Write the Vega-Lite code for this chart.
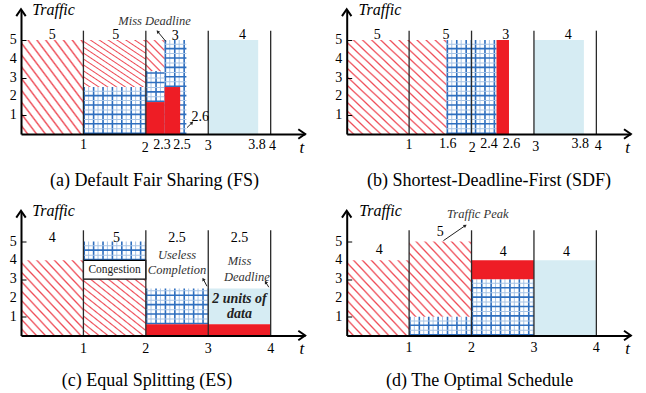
{
"$schema":"https://vega.github.io/schema/vega-lite/v6.json",
"padding":{"left":9,"top":1,"right":5,"bottom":5},
"data":{"values":[
{"p":"a","k":"hatch","x":0,"x2":1,"y":0,"y2":5},
{"p":"a","k":"hatch","x":1,"x2":2,"y":2.5,"y2":5},
{"p":"a","k":"hatch","x":2,"x2":2.3,"y":3.35,"y2":5},
{"p":"a","k":"grid","x":1,"x2":2,"y":0,"y2":2.5},
{"p":"a","k":"grid","x":2,"x2":2.3,"y":1.7,"y2":3.35},
{"p":"a","k":"grid","x":2.3,"x2":2.65,"y":0,"y2":5},
{"p":"a","k":"red","x":2,"x2":2.3,"y":0,"y2":1.7},
{"p":"a","k":"red","x":2.3,"x2":2.55,"y":0,"y2":2.5},
{"p":"a","k":"light","x":3,"x2":3.8,"y":0,"y2":5},
{"p":"a","k":"sep","x":1,"y":0,"y2":5.5},
{"p":"a","k":"sep","x":2,"y":0,"y2":5.5},
{"p":"a","k":"sep","x":3,"y":0,"y2":5.5},
{"p":"a","k":"sep","x":4,"y":0,"y2":5.5},
{"p":"a","k":"value","x":0.5,"y":5.25,"t":"5"},
{"p":"a","k":"value","x":1.52,"y":5.25,"t":"5"},
{"p":"a","k":"value","x":2.47,"y":5.22,"t":"3"},
{"p":"a","k":"value","x":3.55,"y":5.25,"t":"4"},
{"p":"a","k":"tick","x":1,"y":-0.6,"t":"1"},
{"p":"a","k":"tick","x":1.99,"y":-0.72,"t":"2"},
{"p":"a","k":"tick","x":2.26,"y":-0.6,"t":"2.3"},
{"p":"a","k":"tick","x":2.58,"y":-0.6,"t":"2.5"},
{"p":"a","k":"tick","x":3,"y":-0.66,"t":"3"},
{"p":"a","k":"tick","x":3.78,"y":-0.6,"t":"3.8"},
{"p":"a","k":"tick","x":4.03,"y":-0.66,"t":"4"},
{"p":"a","k":"tick","x":2.87,"y":0.88,"t":"2.6"},
{"p":"a","k":"ylab","x":-0.07,"y":1,"t":"1"},
{"p":"a","k":"ylab","x":-0.07,"y":2,"t":"2"},
{"p":"a","k":"ylab","x":-0.07,"y":3,"t":"3"},
{"p":"a","k":"ylab","x":-0.07,"y":4,"t":"4"},
{"p":"a","k":"ylab","x":-0.07,"y":5,"t":"5"},
{"p":"a","k":"annot","x":2.14,"y":6.0,"t":"Miss Deadline"},
{"p":"a","k":"arrow","x":2.32,"y":4.93,"x2":2.19,"y2":5.45},
{"p":"a","k":"arrow","x":2.66,"y":0.34,"x2":2.74,"y2":0.6},
{"p":"a","k":"xarrow","x":4.51,"y":0},
{"p":"a","k":"yarrow","x":0,"y":6.5},
{"p":"a","k":"ylabel","x":0.18,"y":6.62,"t":"Traffic"},
{"p":"a","k":"xlabel","x":4.5,"y":-0.72,"t":"t"},
{"p":"a","k":"caption","x":2.14,"y":-2.5,"t":"(a)  Default Fair Sharing (FS)"},

{"p":"b","k":"hatch","x":0,"x2":1.6,"y":0,"y2":5},
{"p":"b","k":"grid","x":1.6,"x2":2.4,"y":0,"y2":5},
{"p":"b","k":"red","x":2.4,"x2":2.6,"y":0,"y2":5},
{"p":"b","k":"light","x":3,"x2":3.8,"y":0,"y2":5},
{"p":"b","k":"sep","x":1,"y":0,"y2":5.5},
{"p":"b","k":"sep","x":2,"y":0,"y2":5.5},
{"p":"b","k":"sep","x":3,"y":0,"y2":5.5},
{"p":"b","k":"sep","x":4,"y":0,"y2":5.5},
{"p":"b","k":"value","x":0.49,"y":5.25,"t":"5"},
{"p":"b","k":"value","x":1.59,"y":5.25,"t":"5"},
{"p":"b","k":"value","x":2.55,"y":5.25,"t":"3"},
{"p":"b","k":"value","x":3.55,"y":5.25,"t":"4"},
{"p":"b","k":"tick","x":1,"y":-0.6,"t":"1"},
{"p":"b","k":"tick","x":1.62,"y":-0.55,"t":"1.6"},
{"p":"b","k":"tick","x":2.01,"y":-0.75,"t":"2"},
{"p":"b","k":"tick","x":2.28,"y":-0.55,"t":"2.4"},
{"p":"b","k":"tick","x":2.64,"y":-0.55,"t":"2.6"},
{"p":"b","k":"tick","x":3.03,"y":-0.68,"t":"3"},
{"p":"b","k":"tick","x":3.74,"y":-0.55,"t":"3.8"},
{"p":"b","k":"tick","x":4.03,"y":-0.62,"t":"4"},
{"p":"b","k":"ylab","x":-0.07,"y":1,"t":"1"},
{"p":"b","k":"ylab","x":-0.07,"y":2,"t":"2"},
{"p":"b","k":"ylab","x":-0.07,"y":3,"t":"3"},
{"p":"b","k":"ylab","x":-0.07,"y":4,"t":"4"},
{"p":"b","k":"ylab","x":-0.07,"y":5,"t":"5"},
{"p":"b","k":"xarrow","x":4.51,"y":0},
{"p":"b","k":"yarrow","x":0,"y":6.5},
{"p":"b","k":"ylabel","x":0.19,"y":6.62,"t":"Traffic"},
{"p":"b","k":"xlabel","x":4.5,"y":-0.72,"t":"t"},
{"p":"b","k":"caption","x":2.28,"y":-2.5,"t":"(b)  Shortest-Deadline-First (SDF)"},

{"p":"c","k":"hatch","x":0,"x2":1,"y":0,"y2":4},
{"p":"c","k":"hatch","x":1,"x2":2,"y":0,"y2":3},
{"p":"c","k":"grid","x":1,"x2":2,"y":4,"y2":5},
{"p":"c","k":"grid","x":2,"x2":3,"y":0.6,"y2":2.5},
{"p":"c","k":"red","x":2,"x2":4,"y":0,"y2":0.6},
{"p":"c","k":"light","x":3,"x2":4,"y":0.6,"y2":2.5},
{"p":"c","k":"box","x":1,"x2":2,"y":3,"y2":4},
{"p":"c","k":"sep","x":1,"y":0,"y2":5.6},
{"p":"c","k":"sep","x":2,"y":0,"y2":5.6},
{"p":"c","k":"sep","x":3,"y":0,"y2":5.6},
{"p":"c","k":"sep","x":4,"y":0,"y2":5.6},
{"p":"c","k":"value","x":0.5,"y":5.2,"t":"4"},
{"p":"c","k":"value","x":1.53,"y":5.2,"t":"5"},
{"p":"c","k":"value","x":2.5,"y":5.2,"t":"2.5"},
{"p":"c","k":"value","x":3.5,"y":5.2,"t":"2.5"},
{"p":"c","k":"annot","x":2.5,"y":4.29,"t":"Useless"},
{"p":"c","k":"annot","x":2.5,"y":3.46,"t":"Completion"},
{"p":"c","k":"annot","x":3.5,"y":3.94,"t":"Miss"},
{"p":"c","k":"annot","x":3.62,"y":3.1,"t":"Deadline"},
{"p":"c","k":"callout","x":3.5,"y":1.95,"t":"2 units of"},
{"p":"c","k":"callout","x":3.5,"y":1.15,"t":"data"},
{"p":"c","k":"boxlabel","x":1.5,"y":3.5,"t":"Congestion"},
{"p":"c","k":"arrow","x":2.98,"y":2.62,"x2":2.92,"y2":3.0},
{"p":"c","k":"arrow","x":3.97,"y":2.57,"x2":3.92,"y2":2.84},
{"p":"c","k":"tick","x":1,"y":-0.7,"t":"1"},
{"p":"c","k":"tick","x":2,"y":-0.7,"t":"2"},
{"p":"c","k":"tick","x":3,"y":-0.7,"t":"3"},
{"p":"c","k":"tick","x":4,"y":-0.7,"t":"4"},
{"p":"c","k":"ylab","x":-0.07,"y":1,"t":"1"},
{"p":"c","k":"ylab","x":-0.07,"y":2,"t":"2"},
{"p":"c","k":"ylab","x":-0.07,"y":3,"t":"3"},
{"p":"c","k":"ylab","x":-0.07,"y":4,"t":"4"},
{"p":"c","k":"ylab","x":-0.07,"y":5,"t":"5"},
{"p":"c","k":"xarrow","x":4.51,"y":0},
{"p":"c","k":"yarrow","x":0,"y":6.5},
{"p":"c","k":"ylabel","x":0.18,"y":6.62,"t":"Traffic"},
{"p":"c","k":"xlabel","x":4.5,"y":-0.74,"t":"t"},
{"p":"c","k":"caption","x":2.02,"y":-2.4,"t":"(c)  Equal Splitting (ES)"},

{"p":"d","k":"hatch","x":0,"x2":1,"y":0,"y2":4},
{"p":"d","k":"hatch","x":1,"x2":2,"y":1,"y2":5},
{"p":"d","k":"grid","x":1,"x2":2,"y":0,"y2":1},
{"p":"d","k":"grid","x":2,"x2":3,"y":0,"y2":3},
{"p":"d","k":"red","x":2,"x2":3,"y":3,"y2":4},
{"p":"d","k":"light","x":3,"x2":4,"y":0,"y2":4},
{"p":"d","k":"sep","x":1,"y":0,"y2":5.6},
{"p":"d","k":"sep","x":2,"y":0,"y2":5.6},
{"p":"d","k":"sep","x":3,"y":0,"y2":5.6},
{"p":"d","k":"sep","x":4,"y":0,"y2":5.6},
{"p":"d","k":"value","x":0.52,"y":4.55,"t":"4"},
{"p":"d","k":"value","x":1.5,"y":5.5,"t":"5"},
{"p":"d","k":"value","x":2.51,"y":4.45,"t":"4"},
{"p":"d","k":"value","x":3.52,"y":4.45,"t":"4"},
{"p":"d","k":"annot","x":2.1,"y":6.47,"t":"Traffic Peak"},
{"p":"d","k":"arrow","x":1.55,"y":5.05,"x2":1.9,"y2":5.85},
{"p":"d","k":"tick","x":1,"y":-0.68,"t":"1"},
{"p":"d","k":"tick","x":2,"y":-0.68,"t":"2"},
{"p":"d","k":"tick","x":3,"y":-0.68,"t":"3"},
{"p":"d","k":"tick","x":4,"y":-0.68,"t":"4"},
{"p":"d","k":"ylab","x":-0.07,"y":1,"t":"1"},
{"p":"d","k":"ylab","x":-0.07,"y":2,"t":"2"},
{"p":"d","k":"ylab","x":-0.07,"y":3,"t":"3"},
{"p":"d","k":"ylab","x":-0.07,"y":4,"t":"4"},
{"p":"d","k":"ylab","x":-0.07,"y":5,"t":"5"},
{"p":"d","k":"xarrow","x":4.51,"y":0},
{"p":"d","k":"yarrow","x":0,"y":6.5},
{"p":"d","k":"ylabel","x":0.2,"y":6.64,"t":"Traffic"},
{"p":"d","k":"xlabel","x":4.5,"y":-0.7,"t":"t"},
{"p":"d","k":"caption","x":2.13,"y":-2.4,"t":"(d)  The Optimal Schedule"}
]},
"transform":[
{"calculate":"(datum.x+datum.x2)/2","as":"xm"},
{"calculate":"(datum.y+datum.y2)/2","as":"ym"},
{"calculate":"datum.x2-datum.x","as":"w"},
{"calculate":"datum.y2-datum.y","as":"h"},
{"calculate":"atan2((datum.x2-datum.x)*62.4,(datum.y2-datum.y)*18.8)*180/PI","as":"ang"},
{"calculate":"datum.p==='a' || datum.p==='b' ? 1 : 2","as":"r"},
{"calculate":"datum.p==='a' || datum.p==='c' ? 1 : 2","as":"c"}
],
"facet":{
 "row":{"field":"r","type":"ordinal","header":{"labels":false,"title":null}},
 "column":{"field":"c","type":"ordinal","header":{"labels":false,"title":null}}},
"spacing":{"row":77.5,"column":41.7},
"bounds":"flush",
"resolve":{"axis":{"x":"independent","y":"independent"}},
"spec":{
"width":284,"height":124,
"resolve":{"scale":{"size":"independent"}},
"layer":[
{"transform":[{"filter":"datum.k==='hatch' && datum.w<0.5"}],
 "mark":{"type":"rect","fill":{"gradient":"linear","x1":0,"y1":1,"x2":0.716,"y2":-0.1735,"stops":[
 {"offset":0,"color":"#fff"},
 {"offset":0.0917,"color":"#fff"},{"offset":0.125,"color":"#ee4a55"},{"offset":0.1583,"color":"#fff"},
 {"offset":0.2583,"color":"#fff"},{"offset":0.2917,"color":"#ee4a55"},{"offset":0.325,"color":"#fff"},
 {"offset":0.425,"color":"#fff"},{"offset":0.4583,"color":"#ee4a55"},{"offset":0.4917,"color":"#fff"},
 {"offset":0.5917,"color":"#fff"},{"offset":0.625,"color":"#ee4a55"},{"offset":0.6583,"color":"#fff"},
 {"offset":0.7583,"color":"#fff"},{"offset":0.7917,"color":"#ee4a55"},{"offset":0.825,"color":"#fff"},
 {"offset":0.925,"color":"#fff"},{"offset":0.9583,"color":"#ee4a55"},{"offset":0.9917,"color":"#fff"}]}},
 "encoding":{
  "x":{"field":"x","type":"quantitative","title":null,"scale":{"domain":[0,4.55],"nice":false,"zero":false},
   "axis":{"labels":false,"ticks":false,"grid":false,"domainWidth":2,"domainColor":"#000","zindex":1}},
  "x2":{"field":"x2"},
  "y":{"field":"y","type":"quantitative","title":null,"scale":{"domain":[0,6.6],"nice":false,"zero":false},
   "axis":{"values":[1,2,3,4,5],"labels":false,"tickSize":-5,"domainWidth":2,"domainColor":"#000","tickColor":"#000","tickWidth":1,"grid":false,"zindex":1}},
  "y2":{"field":"y2"}}},
{"transform":[{"filter":"datum.k==='hatch' && datum.w>=0.5 && datum.w<1.3"}],
 "mark":{"type":"rect","fill":{"gradient":"linear","x1":0,"y1":1,"x2":0.936,"y2":-0.0566,"stops":[
 {"offset":0,"color":"#fff"},
 {"offset":0.0367,"color":"#fff"},{"offset":0.05,"color":"#ee4a55"},{"offset":0.0633,"color":"#fff"},
 {"offset":0.1033,"color":"#fff"},{"offset":0.1167,"color":"#ee4a55"},{"offset":0.13,"color":"#fff"},
 {"offset":0.17,"color":"#fff"},{"offset":0.1833,"color":"#ee4a55"},{"offset":0.1967,"color":"#fff"},
 {"offset":0.2367,"color":"#fff"},{"offset":0.25,"color":"#ee4a55"},{"offset":0.2633,"color":"#fff"},
 {"offset":0.3033,"color":"#fff"},{"offset":0.3167,"color":"#ee4a55"},{"offset":0.33,"color":"#fff"},
 {"offset":0.37,"color":"#fff"},{"offset":0.3833,"color":"#ee4a55"},{"offset":0.3967,"color":"#fff"},
 {"offset":0.4367,"color":"#fff"},{"offset":0.45,"color":"#ee4a55"},{"offset":0.4633,"color":"#fff"},
 {"offset":0.5033,"color":"#fff"},{"offset":0.5167,"color":"#ee4a55"},{"offset":0.53,"color":"#fff"},
 {"offset":0.57,"color":"#fff"},{"offset":0.5833,"color":"#ee4a55"},{"offset":0.5967,"color":"#fff"},
 {"offset":0.6367,"color":"#fff"},{"offset":0.65,"color":"#ee4a55"},{"offset":0.6633,"color":"#fff"},
 {"offset":0.7033,"color":"#fff"},{"offset":0.7167,"color":"#ee4a55"},{"offset":0.73,"color":"#fff"},
 {"offset":0.77,"color":"#fff"},{"offset":0.7833,"color":"#ee4a55"},{"offset":0.7967,"color":"#fff"},
 {"offset":0.8367,"color":"#fff"},{"offset":0.85,"color":"#ee4a55"},{"offset":0.8633,"color":"#fff"},
 {"offset":0.9033,"color":"#fff"},{"offset":0.9167,"color":"#ee4a55"},{"offset":0.93,"color":"#fff"},
 {"offset":0.97,"color":"#fff"},{"offset":0.9833,"color":"#ee4a55"},{"offset":0.9967,"color":"#fff"}]}},
 "encoding":{"x":{"field":"x","type":"quantitative","title":null},"x2":{"field":"x2"},"y":{"field":"y","type":"quantitative","title":null},"y2":{"field":"y2"}}},
{"transform":[{"filter":"datum.k==='hatch' && datum.w>=1.3"}],
 "mark":{"type":"rect","fill":{"gradient":"linear","x1":0,"y1":1,"x2":1,"y2":0,"stops":[
 {"offset":0,"color":"#fff"},
 {"offset":0.025,"color":"#fff"},{"offset":0.0341,"color":"#ee4a55"},{"offset":0.0432,"color":"#fff"},
 {"offset":0.0705,"color":"#fff"},{"offset":0.0795,"color":"#ee4a55"},{"offset":0.0886,"color":"#fff"},
 {"offset":0.1159,"color":"#fff"},{"offset":0.125,"color":"#ee4a55"},{"offset":0.1341,"color":"#fff"},
 {"offset":0.1614,"color":"#fff"},{"offset":0.1705,"color":"#ee4a55"},{"offset":0.1795,"color":"#fff"},
 {"offset":0.2068,"color":"#fff"},{"offset":0.2159,"color":"#ee4a55"},{"offset":0.225,"color":"#fff"},
 {"offset":0.2523,"color":"#fff"},{"offset":0.2614,"color":"#ee4a55"},{"offset":0.2705,"color":"#fff"},
 {"offset":0.2977,"color":"#fff"},{"offset":0.3068,"color":"#ee4a55"},{"offset":0.3159,"color":"#fff"},
 {"offset":0.3432,"color":"#fff"},{"offset":0.3523,"color":"#ee4a55"},{"offset":0.3614,"color":"#fff"},
 {"offset":0.3886,"color":"#fff"},{"offset":0.3977,"color":"#ee4a55"},{"offset":0.4068,"color":"#fff"},
 {"offset":0.4341,"color":"#fff"},{"offset":0.4432,"color":"#ee4a55"},{"offset":0.4523,"color":"#fff"},
 {"offset":0.4795,"color":"#fff"},{"offset":0.4886,"color":"#ee4a55"},{"offset":0.4977,"color":"#fff"},
 {"offset":0.525,"color":"#fff"},{"offset":0.5341,"color":"#ee4a55"},{"offset":0.5432,"color":"#fff"},
 {"offset":0.5705,"color":"#fff"},{"offset":0.5795,"color":"#ee4a55"},{"offset":0.5886,"color":"#fff"},
 {"offset":0.6159,"color":"#fff"},{"offset":0.625,"color":"#ee4a55"},{"offset":0.6341,"color":"#fff"},
 {"offset":0.6614,"color":"#fff"},{"offset":0.6705,"color":"#ee4a55"},{"offset":0.6795,"color":"#fff"},
 {"offset":0.7068,"color":"#fff"},{"offset":0.7159,"color":"#ee4a55"},{"offset":0.725,"color":"#fff"},
 {"offset":0.7523,"color":"#fff"},{"offset":0.7614,"color":"#ee4a55"},{"offset":0.7705,"color":"#fff"},
 {"offset":0.7977,"color":"#fff"},{"offset":0.8068,"color":"#ee4a55"},{"offset":0.8159,"color":"#fff"},
 {"offset":0.8432,"color":"#fff"},{"offset":0.8523,"color":"#ee4a55"},{"offset":0.8614,"color":"#fff"},
 {"offset":0.8886,"color":"#fff"},{"offset":0.8977,"color":"#ee4a55"},{"offset":0.9068,"color":"#fff"},
 {"offset":0.9341,"color":"#fff"},{"offset":0.9432,"color":"#ee4a55"},{"offset":0.9523,"color":"#fff"},
 {"offset":0.9795,"color":"#fff"},{"offset":0.9886,"color":"#ee4a55"},{"offset":0.9977,"color":"#fff"}]}},
 "encoding":{"x":{"field":"x","type":"quantitative","title":null},"x2":{"field":"x2"},"y":{"field":"y","type":"quantitative","title":null},"y2":{"field":"y2"}}},
{"transform":[{"filter":"datum.k==='light'"}],
 "mark":{"type":"rect","fill":"#d6ecf3"},
 "encoding":{"x":{"field":"x","type":"quantitative","title":null},"x2":{"field":"x2"},"y":{"field":"y","type":"quantitative","title":null},"y2":{"field":"y2"}}},
{"transform":[{"filter":"datum.k==='grid'"}],
 "mark":{"type":"rule","color":"#2f6fbf","strokeDash":[1.6,7.8],"strokeCap":"butt"},
 "encoding":{"x":{"field":"x","type":"quantitative","title":null},"x2":{"field":"x2"},"y":{"field":"ym","type":"quantitative","title":null},
  "size":{"field":"h","type":"quantitative","scale":{"type":"linear","domain":[0,6.6],"range":[0,124],"nice":false,"zero":true},"legend":null}}},
{"transform":[{"filter":"datum.k==='grid'"}],
 "mark":{"type":"rule","color":"#a7c4e6","strokeDash":[1,8.4],"strokeDashOffset":4.7,"strokeCap":"butt"},
 "encoding":{"x":{"field":"x","type":"quantitative","title":null},"x2":{"field":"x2"},"y":{"field":"ym","type":"quantitative","title":null},
  "size":{"field":"h","type":"quantitative","scale":{"type":"linear","domain":[0,6.6],"range":[0,124],"nice":false,"zero":true},"legend":null}}},
{"transform":[{"filter":"datum.k==='grid'"}],
 "mark":{"type":"rule","color":"#2f6fbf","strokeDash":[1.6,7.8],"strokeCap":"butt"},
 "encoding":{"x":{"field":"xm","type":"quantitative","title":null},"y":{"field":"y","type":"quantitative","title":null},"y2":{"field":"y2"},
  "size":{"field":"w","type":"quantitative","scale":{"type":"linear","domain":[0,4.55],"range":[0,284],"nice":false,"zero":true},"legend":null}}},
{"transform":[{"filter":"datum.k==='grid'"}],
 "mark":{"type":"rule","color":"#a7c4e6","strokeDash":[1,8.4],"strokeDashOffset":4.7,"strokeCap":"butt"},
 "encoding":{"x":{"field":"xm","type":"quantitative","title":null},"y":{"field":"y","type":"quantitative","title":null},"y2":{"field":"y2"},
  "size":{"field":"w","type":"quantitative","scale":{"type":"linear","domain":[0,4.55],"range":[0,284],"nice":false,"zero":true},"legend":null}}},
{"transform":[{"filter":"datum.k==='red'"}],
 "mark":{"type":"rect","fill":"#ee1d25"},
 "encoding":{"x":{"field":"x","type":"quantitative","title":null},"x2":{"field":"x2"},"y":{"field":"y","type":"quantitative","title":null},"y2":{"field":"y2"}}},
{"transform":[{"filter":"datum.k==='box'"}],
 "mark":{"type":"rect","fill":"#fff","stroke":"#000","strokeWidth":1.2},
 "encoding":{"x":{"field":"x","type":"quantitative","title":null},"x2":{"field":"x2"},"y":{"field":"y","type":"quantitative","title":null},"y2":{"field":"y2"}}},
{"transform":[{"filter":"datum.k==='sep'"}],
 "mark":{"type":"rule","color":"#2a2a2a","strokeWidth":1.3},
 "encoding":{"x":{"field":"x","type":"quantitative","title":null},"y":{"field":"y","type":"quantitative","title":null},"y2":{"field":"y2"}}},
{"transform":[{"filter":"datum.k==='arrow'"}],
 "mark":{"type":"rule","color":"#222","strokeWidth":1},
 "encoding":{"x":{"field":"x","type":"quantitative","title":null},"x2":{"field":"x2"},"y":{"field":"y","type":"quantitative","title":null},"y2":{"field":"y2"}}},
{"transform":[{"filter":"datum.k==='arrow'"}],
 "mark":{"type":"point","shape":"triangle-up","filled":true,"color":"#222","opacity":1,"size":14},
 "encoding":{"x":{"field":"x2","type":"quantitative","title":null},"y":{"field":"y2","type":"quantitative","title":null},"angle":{"field":"ang","type":"quantitative","scale":null}}},
{"transform":[{"filter":"datum.k==='xarrow'"}],
 "mark":{"type":"point","shape":"M -0.9 0.8 L 0 -0.5 L 0.9 0.8","filled":false,"stroke":"#000","strokeWidth":2,"opacity":1,"size":110,"angle":90},
 "encoding":{"x":{"field":"x","type":"quantitative","title":null},"y":{"field":"y","type":"quantitative","title":null}}},
{"transform":[{"filter":"datum.k==='yarrow'"}],
 "mark":{"type":"point","shape":"M -0.9 0.8 L 0 -0.5 L 0.9 0.8","filled":false,"stroke":"#000","strokeWidth":2,"opacity":1,"size":110},
 "encoding":{"x":{"field":"x","type":"quantitative","title":null},"y":{"field":"y","type":"quantitative","title":null}}},
{"transform":[{"filter":"datum.k==='value' || datum.k==='tick'"}],
 "mark":{"type":"text","font":"Liberation Serif","fontSize":14,"color":"#000","align":"center","baseline":"middle"},
 "encoding":{"x":{"field":"x","type":"quantitative","title":null},"y":{"field":"y","type":"quantitative","title":null},"text":{"field":"t"}}},
{"transform":[{"filter":"datum.k==='ylab'"}],
 "mark":{"type":"text","font":"Liberation Serif","fontSize":14,"color":"#000","align":"right","baseline":"middle"},
 "encoding":{"x":{"field":"x","type":"quantitative","title":null},"y":{"field":"y","type":"quantitative","title":null},"text":{"field":"t"}}},
{"transform":[{"filter":"datum.k==='ylabel'"}],
 "mark":{"type":"text","font":"Liberation Serif","fontStyle":"italic","fontSize":16,"color":"#000","align":"left","baseline":"middle"},
 "encoding":{"x":{"field":"x","type":"quantitative","title":null},"y":{"field":"y","type":"quantitative","title":null},"text":{"field":"t"}}},
{"transform":[{"filter":"datum.k==='xlabel'"}],
 "mark":{"type":"text","font":"Liberation Serif","fontStyle":"italic","fontSize":17,"color":"#000","align":"center","baseline":"middle"},
 "encoding":{"x":{"field":"x","type":"quantitative","title":null},"y":{"field":"y","type":"quantitative","title":null},"text":{"field":"t"}}},
{"transform":[{"filter":"datum.k==='caption'"}],
 "mark":{"type":"text","font":"Liberation Serif","fontSize":18,"color":"#000","align":"center","baseline":"middle"},
 "encoding":{"x":{"field":"x","type":"quantitative","title":null},"y":{"field":"y","type":"quantitative","title":null},"text":{"field":"t"}}},
{"transform":[{"filter":"datum.k==='annot'"}],
 "mark":{"type":"text","font":"Liberation Serif","fontStyle":"italic","fontSize":12.5,"color":"#333","align":"center","baseline":"middle"},
 "encoding":{"x":{"field":"x","type":"quantitative","title":null},"y":{"field":"y","type":"quantitative","title":null},"text":{"field":"t"}}},
{"transform":[{"filter":"datum.k==='callout'"}],
 "mark":{"type":"text","font":"Liberation Serif","fontStyle":"italic","fontWeight":"bold","fontSize":14,"color":"#222","align":"center","baseline":"middle"},
 "encoding":{"x":{"field":"x","type":"quantitative","title":null},"y":{"field":"y","type":"quantitative","title":null},"text":{"field":"t"}}},
{"transform":[{"filter":"datum.k==='boxlabel'"}],
 "mark":{"type":"text","font":"Liberation Serif","fontSize":11.5,"color":"#222","align":"center","baseline":"middle"},
 "encoding":{"x":{"field":"x","type":"quantitative","title":null},"y":{"field":"y","type":"quantitative","title":null},"text":{"field":"t"}}}
]},
"config":{"view":{"stroke":null},"background":"#ffffff"}
}
